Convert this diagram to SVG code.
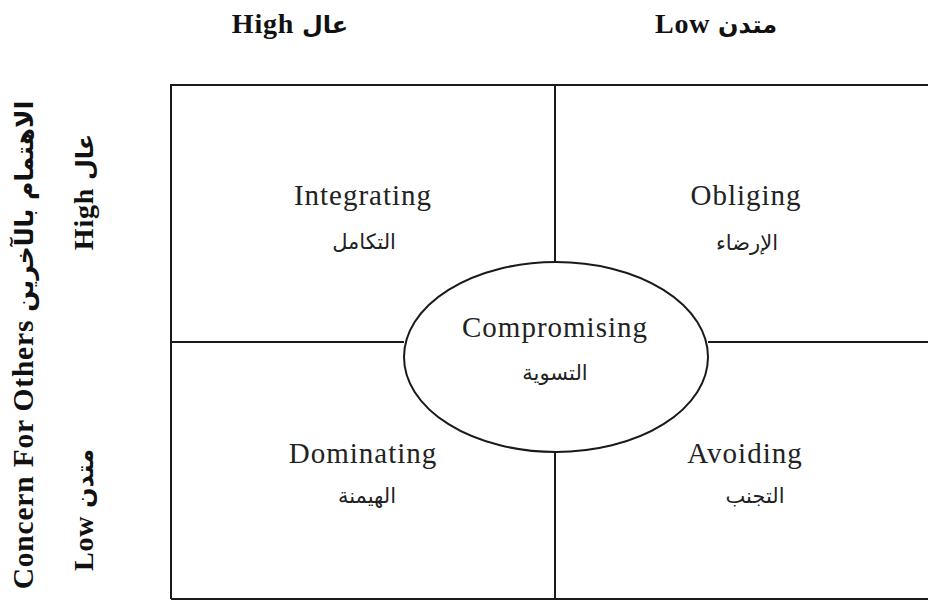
<svg xmlns="http://www.w3.org/2000/svg" width="928" height="601" viewBox="0 0 928 601">
<style>
.ln{stroke:#1a1a1a;stroke-width:2;fill:none}
.en{font-family:"Liberation Serif","DejaVu Serif",serif;font-size:29px;fill:#222;text-anchor:middle;letter-spacing:1px}
.ar{font-family:"DejaVu Sans","Noto Sans",sans-serif;font-size:21px;fill:#222;text-anchor:middle}
.hd{font-family:"Liberation Serif","DejaVu Sans",serif;font-size:28px;font-weight:bold;fill:#111;text-anchor:middle;letter-spacing:0.8px}
.ha{font-family:"DejaVu Sans",sans-serif;font-size:24px}
.big{font-size:29.5px}
.bga{font-family:"DejaVu Sans",sans-serif;font-size:25px}
</style>
<rect width="928" height="601" fill="#fff"/>
<g id="grid">
<path class="ln" d="M171,599 V85 H930"/>
<path class="ln" d="M171,599 H930"/>
<path class="ln" d="M555,85 V262 M555,452 V599 M171,342 H404 M708,342 H930"/>
</g>
<g id="axis-top">
<text class="hd" x="290" y="33">High <tspan class="ha">عال</tspan></text>
<text class="hd" x="716" y="33">Low <tspan class="ha">متدن</tspan></text>
</g>
<g id="axis-left">
<text class="hd big" transform="translate(33,345) rotate(-90)">Concern For Others <tspan class="bga">الاهتمام بالآخرين</tspan></text>
<text class="hd" transform="translate(93,192) rotate(-90)">High <tspan class="ha">عال</tspan></text>
<text class="hd" transform="translate(93,510) rotate(-90)">Low <tspan class="ha">متدن</tspan></text>
</g>
<g id="integrating">
<text class="en" x="363" y="205">Integrating</text>
<text class="ar" x="364" y="249">التكامل</text>
</g>
<g id="obliging">
<text class="en" x="746" y="205">Obliging</text>
<text class="ar" x="747" y="250">الإرضاء</text>
</g>
<g id="compromising">
<ellipse class="ln" cx="556" cy="357" rx="152" ry="95"/>
<text class="en" x="555" y="337">Compromising</text>
<text class="ar" x="555" y="380">التسوية</text>
</g>
<g id="dominating">
<text class="en" x="363" y="463">Dominating</text>
<text class="ar" x="367" y="503">الهيمنة</text>
</g>
<g id="avoiding">
<text class="en" x="745" y="463">Avoiding</text>
<text class="ar" x="755" y="503">التجنب</text>
</g>
</svg>
